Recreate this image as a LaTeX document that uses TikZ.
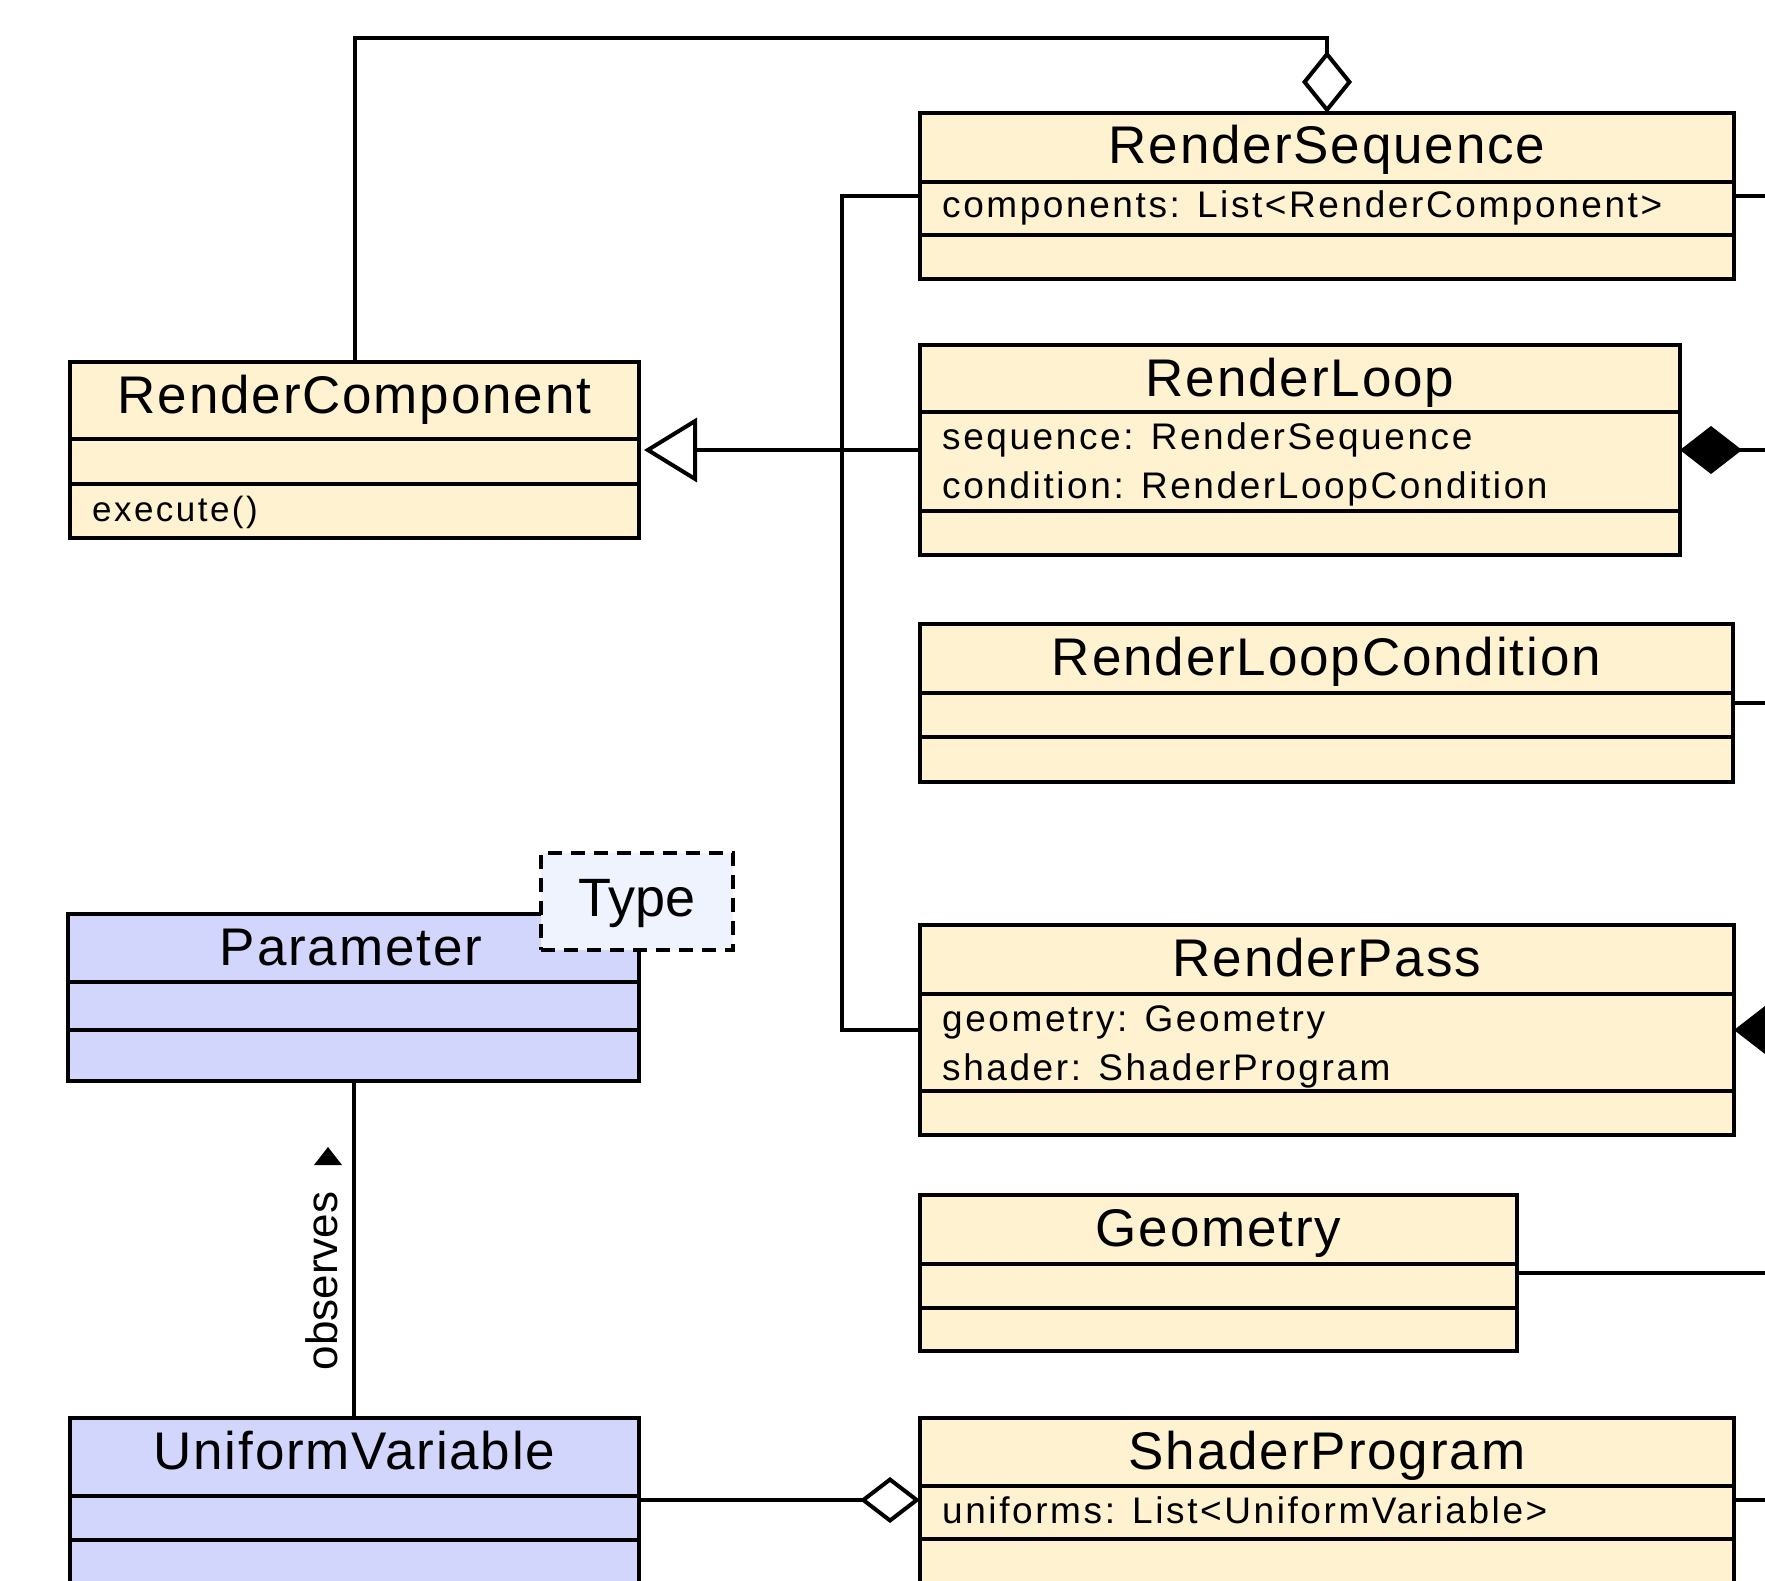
\documentclass[tikz,border=0pt]{standalone}
\usepackage{fontspec}
\setmainfont{Liberation Sans}
\newfontfamily\titlefont[LetterSpace=3.5]{Liberation Sans}
\newfontfamily\attrfont[LetterSpace=7]{Liberation Sans}
\usetikzlibrary{arrows.meta}
\definecolor{clsyellow}{HTML}{FEF2D0}
\definecolor{clsblue}{HTML}{D3D6FC}
\definecolor{typeblue}{HTML}{EEF3FE}
\tikzset{
  clsbox/.style={draw=black, line width=4.3pt, fill=clsyellow, inner sep=0pt, outer sep=0pt, anchor=north west},
  bluebox/.style={clsbox, fill=clsblue},
  typebox/.style={draw=black, line width=4.3pt, fill=typeblue, dash pattern=on 14pt off 9pt, inner sep=0pt, outer sep=0pt, anchor=north west},
  divline/.style={line width=4.3pt},
  conn/.style={line width=4pt},
  titletext/.style={font=\titlefont\fontsize{53}{62}\selectfont, anchor=base, inner sep=0pt},
  attrtext/.style={font=\attrfont\fontsize{37}{44}\selectfont, anchor=base west, inner sep=0pt},
  labeltext/.style={font=\fontsize{44}{52}\selectfont, inner sep=0pt},
}
\begin{document}
\begin{tikzpicture}[x=1pt, y=-1pt]
\useasboundingbox (0,0) rectangle (1765,1581);
\clip (0,0) rectangle (1765,1581);
\fill[white] (0,0) rectangle (1765,1581);

% RenderSequence
\node[clsbox, minimum width=814pt, minimum height=166pt] (rs) at (920,113) {};
\draw[divline] (920,182) -- (1734,182);
\draw[divline] (920,235) -- (1734,235);
\node[titletext] (rs-t) at (1327,164) {RenderSequence};
\node[attrtext] (rs-a) at (942,218) {components: List<RenderComponent>};

% RenderComponent
\node[clsbox, minimum width=569pt, minimum height=176pt] (rc) at (70,362) {};
\draw[divline] (70,439) -- (639,439);
\draw[divline] (70,484) -- (639,484);
\node[titletext] (rc-t) at (354.5,413) {RenderComponent};
\node[attrtext, font=\attrfont\fontsize{35}{42}\selectfont] (rc-m) at (92,521) {execute()};

% RenderLoop
\node[clsbox, minimum width=760pt, minimum height=210pt] (rl) at (920,345) {};
\draw[divline] (920,412) -- (1680,412);
\draw[divline] (920,511) -- (1680,511);
\node[titletext] (rl-t) at (1300,396) {RenderLoop};
\node[attrtext] (rl-a1) at (942,449) {sequence: RenderSequence};
\node[attrtext] (rl-a2) at (942,498) {condition: RenderLoopCondition};

% RenderLoopCondition
\node[clsbox, minimum width=813pt, minimum height=158pt] (rlc) at (920,624) {};
\draw[divline] (920,693) -- (1733,693);
\draw[divline] (920,737) -- (1733,737);
\node[titletext] (rlc-t) at (1326.5,675) {RenderLoopCondition};

% RenderPass
\node[clsbox, minimum width=814pt, minimum height=210pt] (rp) at (920,925) {};
\draw[divline] (920,994) -- (1734,994);
\draw[divline] (920,1091) -- (1734,1091);
\node[titletext] (rp-t) at (1327,976) {RenderPass};
\node[attrtext] (rp-a1) at (942,1031) {geometry: Geometry};
\node[attrtext] (rp-a2) at (942,1080) {shader: ShaderProgram};

% Geometry
\node[clsbox, minimum width=597pt, minimum height=156pt] (geo) at (920,1195) {};
\draw[divline] (920,1264) -- (1517,1264);
\draw[divline] (920,1308) -- (1517,1308);
\node[titletext] (geo-t) at (1218.5,1246) {Geometry};

% ShaderProgram
\node[clsbox, minimum width=814pt, minimum height=232pt] (sp) at (920,1418) {};
\draw[divline] (920,1486) -- (1734,1486);
\draw[divline] (920,1539) -- (1734,1539);
\node[titletext] (sp-t) at (1327,1469) {ShaderProgram};
\node[attrtext] (sp-a) at (942,1523) {uniforms: List<UniformVariable>};

% UniformVariable
\node[bluebox, minimum width=569pt, minimum height=232pt] (uv) at (70,1418) {};
\draw[divline] (70,1496) -- (639,1496);
\draw[divline] (70,1540) -- (639,1540);
\node[titletext] (uv-t) at (354.5,1469) {UniformVariable};

% Parameter
\node[bluebox, minimum width=571pt, minimum height=167pt] (par) at (68,914) {};
\draw[divline] (68,982) -- (639,982);
\draw[divline] (68,1030) -- (639,1030);
\node[titletext] (par-t) at (351,965) {Parameter};

% Type (template parameter)
\node[typebox, minimum width=192pt, minimum height=97pt] (type) at (541,853) {};
\node[titletext, font=\fontsize{54}{62}\selectfont] (type-t) at (637,916) {Type};

% Connectors
\draw[conn, -{Diamond[open, length=62pt, width=50pt, line width=4pt]}]
  (rc.north) |- ([yshift=75pt]rs.north) -- (rs.north);
\draw[conn, -{Triangle[open, length=53pt, width=64pt, line width=4pt]}, shorten >=5pt]
  (rl.west) -- (rc.east |- rl.west);
\draw[conn] (rs.west) -- ++(-78,0) |- (rp.west);
\draw[conn] (rs.east) -- ++(60,0);
\draw[conn, {Diamond[length=62pt, width=48pt]}-] (rl.east) -- ++(120,0);
\draw[conn] (rlc.east) -- ++(60,0);
\draw[conn, {Diamond[length=62pt, width=48pt]}-] (rp.east) -- ++(120,0);
\draw[conn] (geo.east) -- ++(300,0);
\draw[conn] ([yshift=-82pt]sp.north east) -- ++(60,0);
\draw[conn, -{Diamond[open, length=60pt, width=46pt, line width=4pt]}]
  ([yshift=-82pt]uv.north east) -- ([yshift=-82pt]sp.north west);
\draw[conn] (par.south) -- (par.south |- uv.north);
\node[labeltext, rotate=90, anchor=base] (obs) at (337,1281) {observes};
\fill (314,1165) -- (342,1165) -- (328,1147) -- cycle;
\end{tikzpicture}
\end{document}
